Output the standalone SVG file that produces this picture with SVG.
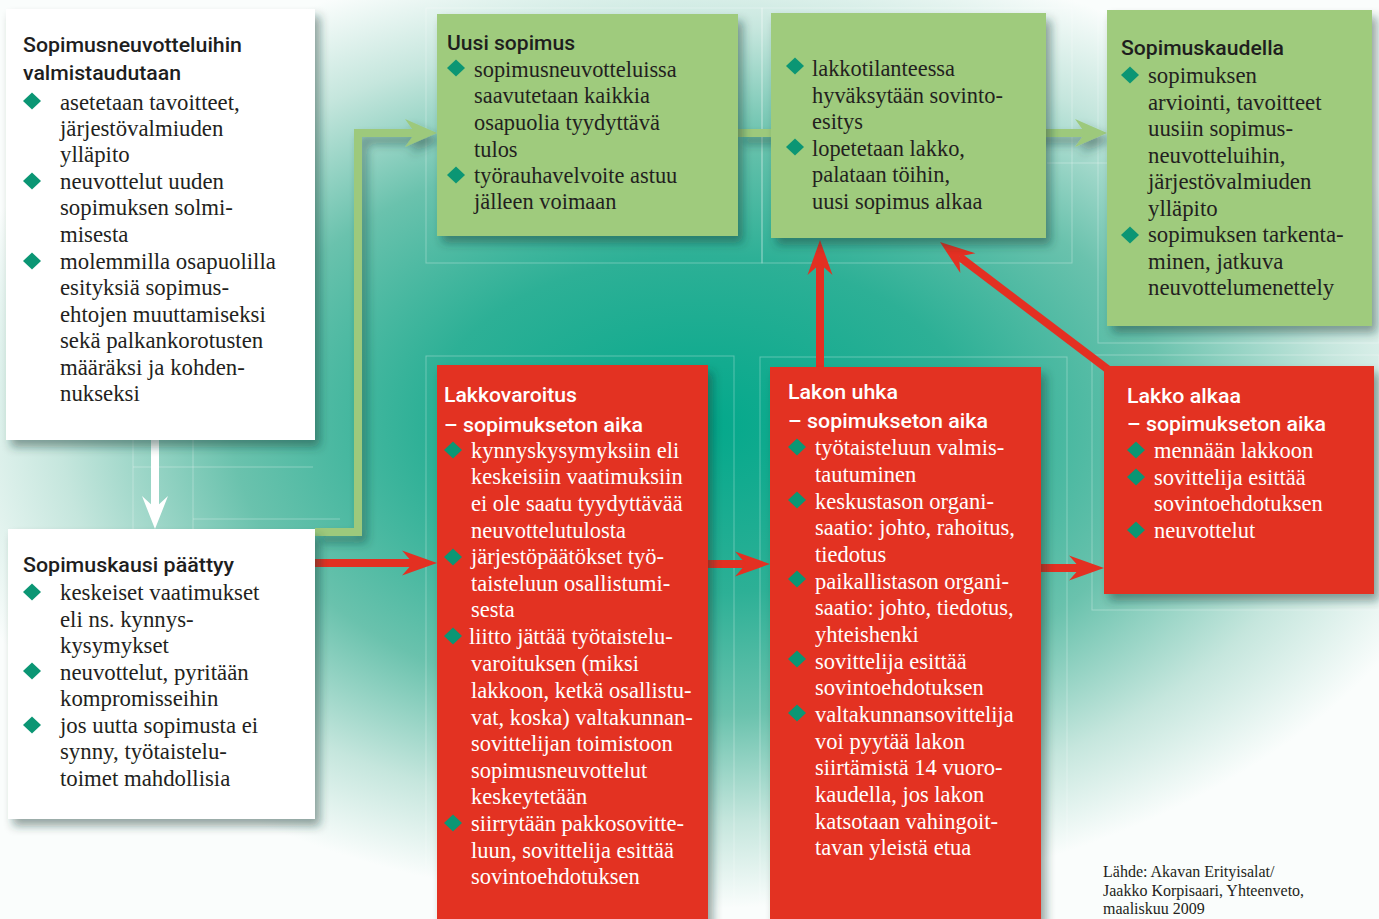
<svg xmlns="http://www.w3.org/2000/svg" width="1379" height="919" viewBox="0 0 1379 919">
<defs>
<radialGradient id="bg" gradientUnits="userSpaceOnUse" cx="700" cy="425" r="780" gradientTransform="translate(700 425) scale(1 0.62) translate(-700 -425)">
<stop offset="0" stop-color="#03A88B"/>
<stop offset="0.35" stop-color="#2DB096"/>
<stop offset="0.6" stop-color="#6AC2AD"/>
<stop offset="0.82" stop-color="#C5E6DD"/>
<stop offset="1" stop-color="#FAFDFC"/>
</radialGradient>
<filter id="sh" x="-10%" y="-10%" width="130%" height="130%">
<feDropShadow dx="5" dy="7" stdDeviation="5" flood-color="#1b3a33" flood-opacity="0.45"/>
</filter>
<path id="dia" d="M0,-8.5 L9,0 L0,8.5 L-9,0Z" fill="#0B9674"/>
<marker id="ar" viewBox="-36 -13 37 26" refX="-24" refY="0" markerWidth="37" markerHeight="26" markerUnits="userSpaceOnUse" orient="auto">
<path d="M0,0 L-35,-12.5 L-24,0 L-35,12.5Z" fill="#E33022"/>
</marker>
<marker id="ag" viewBox="-34 -15 35 30" refX="-22" refY="0" markerWidth="35" markerHeight="30" markerUnits="userSpaceOnUse" orient="auto">
<path d="M0,0 L-32,-14 L-22,0 L-32,14Z" fill="#9DC97C"/>
</marker>
<marker id="aw" viewBox="-34 -14 35 28" refX="-21" refY="0" markerWidth="35" markerHeight="28" markerUnits="userSpaceOnUse" orient="auto">
<path d="M0,0 L-33,-13 L-21,0 L-33,13Z" fill="#FFFFFF"/>
</marker>
<style>
.t{font-family:Roboto,"Liberation Sans",sans-serif;font-weight:500;font-size:21px;}
.td{fill:#1E1E1E;}
.tw{fill:#FFFFFF;}
.b{font-family:"Liberation Serif",serif;font-size:22.8px;}
.bd{fill:#231F20;}
.bw{fill:#FFFFFF;}
.white{fill:#FFFFFF;}
.green{fill:#9FCB7D;}
.red{fill:#E33022;}
.guide{fill:none;stroke:#FFFFFF;stroke-opacity:0.3;stroke-width:1;}
.src{font-family:"Liberation Serif",serif;font-size:16px;fill:#231F20;}
</style>
</defs>

<rect x="0" y="0" width="1379" height="919" fill="url(#bg)"/>

<g id="guides">
<rect class="guide" x="426" y="8" width="336" height="255"/>
<rect class="guide" x="762" y="8" width="310" height="255"/>
<rect class="guide" x="1098" y="4" width="281" height="339"/>
<rect class="guide" x="426" y="356" width="308" height="563"/>
<rect class="guide" x="760" y="357" width="307" height="562"/>
<rect class="guide" x="1092" y="355" width="287" height="255"/>
<path class="guide" d="M133,440 V529 M193,440 V560 M133,467 H313 M193,519 H340 M1047,163 H1107"/>
</g>

<g id="connectors">
<g filter="url(#sh)">
<path d="M315,532 H358 V133 H415" fill="none" stroke="#9DC97C" stroke-width="8" marker-end="url(#ag)"/>
<line x1="738" y1="133" x2="1085" y2="133" stroke="#9DC97C" stroke-width="8" marker-end="url(#ag)"/>
</g>
<line x1="155" y1="440" x2="155" y2="508" stroke="#FFFFFF" stroke-width="8" marker-end="url(#aw)"/>
<line x1="315" y1="563" x2="413" y2="563" stroke="#E33022" stroke-width="8" marker-end="url(#ar)"/>
<line x1="708" y1="564" x2="746" y2="564" stroke="#E33022" stroke-width="8" marker-end="url(#ar)"/>
<line x1="1041" y1="568" x2="1080" y2="568" stroke="#E33022" stroke-width="8" marker-end="url(#ar)"/>
<line x1="820" y1="370" x2="820" y2="264" stroke="#E33022" stroke-width="8" marker-end="url(#ar)"/>
<line x1="1110" y1="371" x2="959.1" y2="256.5" stroke="#E33022" stroke-width="8" marker-end="url(#ar)"/>
</g>

<g id="node-valmistaudutaan">
<rect class="white" x="6" y="9" width="309" height="431" filter="url(#sh)"/>
<text class="t td" x="23" y="52" textLength="219" lengthAdjust="spacingAndGlyphs">Sopimusneuvotteluihin</text>
<text class="t td" x="23" y="80" textLength="158" lengthAdjust="spacingAndGlyphs">valmistaudutaan</text>
<use href="#dia" x="32" y="101"/>
<use href="#dia" x="32" y="181"/>
<use href="#dia" x="32" y="261"/>
<text class="b bd">
<tspan x="60" y="110">asetetaan tavoitteet,</tspan>
<tspan x="60" y="136">järjestövalmiuden</tspan>
<tspan x="60" y="162">ylläpito</tspan>
<tspan x="60" y="189">neuvottelut uuden</tspan>
<tspan x="60" y="215">sopimuksen solmi-</tspan>
<tspan x="60" y="242">misesta</tspan>
<tspan x="60" y="269">molemmilla osapuolilla</tspan>
<tspan x="60" y="295">esityksiä sopimus-</tspan>
<tspan x="60" y="322">ehtojen muuttamiseksi</tspan>
<tspan x="60" y="348">sekä palkankorotusten</tspan>
<tspan x="60" y="375">määräksi ja kohden-</tspan>
<tspan x="60" y="401">nukseksi</tspan>
</text>
</g>

<g id="node-sopimuskausi-paattyy">
<rect class="white" x="8" y="529" width="307" height="290" filter="url(#sh)"/>
<text class="t td" x="23" y="572" textLength="211" lengthAdjust="spacingAndGlyphs">Sopimuskausi päättyy</text>
<use href="#dia" x="32" y="592"/>
<use href="#dia" x="32" y="671"/>
<use href="#dia" x="32" y="725"/>
<text class="b bd">
<tspan x="60" y="600">keskeiset vaatimukset</tspan>
<tspan x="60" y="627">eli ns. kynnys-</tspan>
<tspan x="60" y="653">kysymykset</tspan>
<tspan x="60" y="680">neuvottelut, pyritään</tspan>
<tspan x="60" y="706">kompromisseihin</tspan>
<tspan x="60" y="733">jos uutta sopimusta ei</tspan>
<tspan x="60" y="759">synny, työtaistelu-</tspan>
<tspan x="60" y="786">toimet mahdollisia</tspan>
</text>
</g>

<g id="node-uusi-sopimus">
<rect class="green" x="437" y="14" width="301" height="222" filter="url(#sh)"/>
<text class="t td" x="447" y="50" textLength="128" lengthAdjust="spacingAndGlyphs">Uusi sopimus</text>
<use href="#dia" x="456" y="68"/>
<use href="#dia" x="456" y="175"/>
<text class="b bd" style="font-size:22.4px">
<tspan x="474" y="77">sopimusneuvotteluissa</tspan>
<tspan x="474" y="103">saavutetaan kaikkia</tspan>
<tspan x="474" y="130">osapuolia tyydyttävä</tspan>
<tspan x="474" y="157">tulos</tspan>
<tspan x="474" y="183">työrauhavelvoite astuu</tspan>
<tspan x="474" y="209">jälleen voimaan</tspan>
</text>
</g>

<g id="node-sovintoesitys">
<rect class="green" x="771" y="13" width="275" height="225" filter="url(#sh)"/>
<use href="#dia" x="795" y="66"/>
<use href="#dia" x="795" y="147"/>
<text class="b bd" style="font-size:22.4px">
<tspan x="812" y="76">lakkotilanteessa</tspan>
<tspan x="812" y="103">hyväksytään sovinto-</tspan>
<tspan x="812" y="129">esitys</tspan>
<tspan x="812" y="156">lopetetaan lakko,</tspan>
<tspan x="812" y="182">palataan töihin,</tspan>
<tspan x="812" y="209">uusi sopimus alkaa</tspan>
</text>
</g>

<g id="node-sopimuskaudella">
<rect class="green" x="1107" y="10" width="265" height="316" filter="url(#sh)"/>
<text class="t td" x="1121" y="55" textLength="163" lengthAdjust="spacingAndGlyphs">Sopimuskaudella</text>
<use href="#dia" x="1130" y="75"/>
<use href="#dia" x="1130" y="235"/>
<text class="b bd">
<tspan x="1148" y="83">sopimuksen</tspan>
<tspan x="1148" y="110">arviointi, tavoitteet</tspan>
<tspan x="1148" y="136">uusiin sopimus-</tspan>
<tspan x="1148" y="163">neuvotteluihin,</tspan>
<tspan x="1148" y="189">järjestövalmiuden</tspan>
<tspan x="1148" y="216">ylläpito</tspan>
<tspan x="1148" y="242">sopimuksen tarkenta-</tspan>
<tspan x="1148" y="269">minen, jatkuva</tspan>
<tspan x="1148" y="295">neuvottelumenettely</tspan>
</text>
</g>

<g id="node-lakkovaroitus">
<rect class="red" x="437" y="365" width="271" height="560" filter="url(#sh)"/>
<text class="t tw" x="444" y="402" textLength="133" lengthAdjust="spacingAndGlyphs">Lakkovaroitus</text>
<text class="t tw" x="444" y="432" textLength="199" lengthAdjust="spacingAndGlyphs">– sopimukseton aika</text>
<use href="#dia" x="453" y="450"/>
<use href="#dia" x="453" y="557"/>
<use href="#dia" x="453" y="636"/>
<use href="#dia" x="453" y="823"/>
<text class="b bw" style="font-size:22.5px">
<tspan x="471" y="458">kynnyskysymyksiin eli</tspan>
<tspan x="471" y="484">keskeisiin vaatimuksiin</tspan>
<tspan x="471" y="511">ei ole saatu tyydyttävää</tspan>
<tspan x="471" y="538">neuvottelutulosta</tspan>
<tspan x="471" y="564">järjestöpäätökset työ-</tspan>
<tspan x="471" y="591">taisteluun osallistumi-</tspan>
<tspan x="471" y="617">sesta</tspan>
<tspan x="469" y="644">liitto jättää työtaistelu-</tspan>
<tspan x="471" y="671">varoituksen (miksi</tspan>
<tspan x="471" y="698">lakkoon, ketkä osallistu-</tspan>
<tspan x="471" y="725">vat, koska) valtakunnan-</tspan>
<tspan x="471" y="751">sovittelijan toimistoon</tspan>
<tspan x="471" y="778">sopimusneuvottelut</tspan>
<tspan x="471" y="804">keskeytetään</tspan>
<tspan x="471" y="831">siirrytään pakkosovitte-</tspan>
<tspan x="471" y="858">luun, sovittelija esittää</tspan>
<tspan x="471" y="884">sovintoehdotuksen</tspan>
</text>
</g>

<g id="node-lakon-uhka">
<rect class="red" x="770" y="367" width="271" height="560" filter="url(#sh)"/>
<text class="t tw" x="788" y="399" textLength="110" lengthAdjust="spacingAndGlyphs">Lakon uhka</text>
<text class="t tw" x="788" y="428" textLength="200" lengthAdjust="spacingAndGlyphs">– sopimukseton aika</text>
<use href="#dia" x="797" y="447"/>
<use href="#dia" x="797" y="500"/>
<use href="#dia" x="797" y="579"/>
<use href="#dia" x="797" y="659"/>
<use href="#dia" x="797" y="713"/>
<text class="b bw" style="font-size:22.5px">
<tspan x="815" y="455">työtaisteluun valmis-</tspan>
<tspan x="815" y="482">tautuminen</tspan>
<tspan x="815" y="509">keskustason organi-</tspan>
<tspan x="815" y="535">saatio: johto, rahoitus,</tspan>
<tspan x="815" y="562">tiedotus</tspan>
<tspan x="815" y="589">paikallistason organi-</tspan>
<tspan x="815" y="615">saatio: johto, tiedotus,</tspan>
<tspan x="815" y="642">yhteishenki</tspan>
<tspan x="815" y="669">sovittelija esittää</tspan>
<tspan x="815" y="695">sovintoehdotuksen</tspan>
<tspan x="815" y="722">valtakunnansovittelija</tspan>
<tspan x="815" y="749">voi pyytää lakon</tspan>
<tspan x="815" y="775">siirtämistä 14 vuoro-</tspan>
<tspan x="815" y="802">kaudella, jos lakon</tspan>
<tspan x="815" y="829">katsotaan vahingoit-</tspan>
<tspan x="815" y="855">tavan yleistä etua</tspan>
</text>
</g>

<g id="node-lakko-alkaa">
<rect class="red" x="1104" y="366" width="270" height="228" filter="url(#sh)"/>
<text class="t tw" x="1127" y="403" textLength="114" lengthAdjust="spacingAndGlyphs">Lakko alkaa</text>
<text class="t tw" x="1127" y="431" textLength="199" lengthAdjust="spacingAndGlyphs">– sopimukseton aika</text>
<use href="#dia" x="1136" y="450"/>
<use href="#dia" x="1136" y="477"/>
<use href="#dia" x="1136" y="530"/>
<text class="b bw" style="font-size:22.5px">
<tspan x="1154" y="458">mennään lakkoon</tspan>
<tspan x="1154" y="485">sovittelija esittää</tspan>
<tspan x="1154" y="511">sovintoehdotuksen</tspan>
<tspan x="1154" y="538">neuvottelut</tspan>
</text>
</g>

<g id="source">
<text class="src">
<tspan x="1103" y="877">Lähde: Akavan Erityisalat/</tspan>
<tspan x="1103" y="895.5">Jaakko Korpisaari, Yhteenveto,</tspan>
<tspan x="1103" y="914">maaliskuu 2009</tspan>
</text>
</g>
</svg>
